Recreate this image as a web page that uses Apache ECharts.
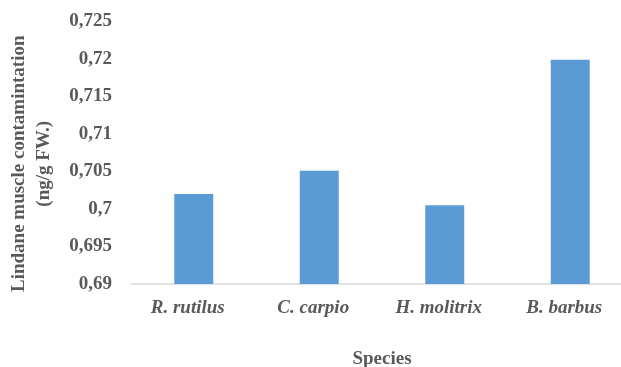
<!DOCTYPE html>
<html><head><meta charset="utf-8">
<script src="https://cdn.jsdelivr.net/npm/echarts@6/dist/echarts.min.js"></script>
<style>html,body{margin:0;padding:0;background:#fff}#c{width:621px;height:367px}</style>
</head><body><div id="c"></div>
<script>
var categories = ['R. rutilus', 'C. carpio', 'H. molitrix', 'B. barbus'];
var values = [0.702, 0.7051, 0.7005, 0.7199];
var yMin = 0.69, yMax = 0.725, yStep = 0.005;

var chart = echarts.init(document.getElementById('c'));
var fontFam = '"Liberation Serif", "Times New Roman", serif';
var txt = '#595959';
chart.setOption({
  animation: false,
  grid: { left: 131, right: -12, top: 21.5, bottom: 83, containLabel: false, outerBoundsMode: 'none' },
  xAxis: {
    type: 'category', data: categories,
    name: 'Species', nameLocation: 'middle', nameGap: 66,
    nameTextStyle: { fontFamily: fontFam, fontWeight: 'bold', fontSize: 19, color: txt },
    axisLine: { lineStyle: { color: '#d9d9d9', width: 1.5 } },
    axisTick: { show: false },
    axisLabel: { fontFamily: fontFam, fontWeight: 'bold', fontStyle: 'italic', fontSize: 19, color: txt, margin: 15, padding: [0, 12, 0, 0] }
  },
  yAxis: {
    type: 'value', min: yMin, max: yMax, interval: yStep,
    name: 'Lindane muscle contamintation\n(ng/g FW.)', nameLocation: 'middle', nameGap: 74,
    nameTextStyle: { fontFamily: fontFam, fontWeight: 'bold', fontSize: 19, color: txt, lineHeight: 25, align: 'center', padding: [0, 22, 0, 0] },
    axisLine: { show: false }, axisTick: { show: false }, splitLine: { show: false },
    axisLabel: {
      fontFamily: fontFam, fontWeight: 'bold', fontSize: 19, color: txt, margin: 19,
      formatter: function (v) { return parseFloat(v.toFixed(3)).toString().replace('.', ','); }
    }
  },
  series: [{ type: 'bar', data: values, barWidth: 39, itemStyle: { color: '#5B9BD5' } }]
});
</script></body></html>
